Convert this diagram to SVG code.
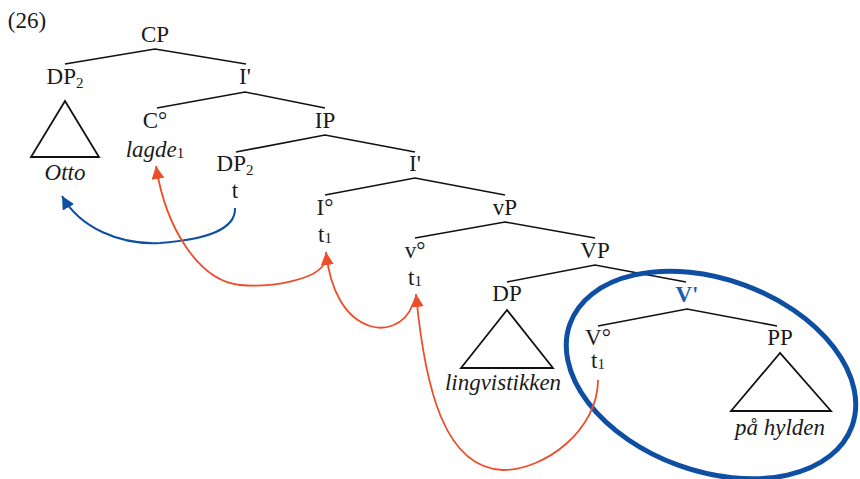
<svg xmlns="http://www.w3.org/2000/svg" width="860" height="479" viewBox="0 0 860 479">
  <defs>
    <style>
      text { font-family: "Times New Roman", "Liberation Serif", Tinos, "DejaVu Serif", serif; font-size: 23px; fill: #1a1a1a; text-anchor: middle; }
      .it { font-style: italic; }
      .sub { font-size: 15px; font-style: normal; }
      .branch { stroke: #111; stroke-width: 1.6; fill: none; }
      .tri { stroke: #111; stroke-width: 1.8; fill: none; stroke-linejoin: miter; }
      .mvred { stroke: #ee4d2a; stroke-width: 1.8; fill: none; }
      .mvblue { stroke: #0e4fa3; stroke-width: 2; fill: none; }
      .vbar { fill: #1b5cb0; font-weight: bold; }
    </style>
    <marker id="headRed" markerUnits="userSpaceOnUse" markerWidth="15" markerHeight="13" refX="13" refY="6.5" orient="auto">
      <path d="M0,0 L13,6.5 L0,13 Z" fill="#ee4d2a"/>
    </marker>
    <marker id="headBlue" markerUnits="userSpaceOnUse" markerWidth="15" markerHeight="13" refX="13" refY="6.5" orient="auto">
      <path d="M0,0 L13,6.5 L0,13 Z" fill="#0e4fa3"/>
    </marker>
  </defs>

  <rect width="860" height="479" fill="#ffffff"/>

  <text x="27" y="28">(26)</text>

  <!-- tree branches -->
  <g id="branches">
    <polyline class="branch" points="65,64 155,49 246,64"/>
    <polyline class="branch" points="157,108 245,92 325,108"/>
    <polyline class="branch" points="236,152 325,135 415,152"/>
    <polyline class="branch" points="325,195 415,178 505,195"/>
    <polyline class="branch" points="415,238 505,222 595,238"/>
    <polyline class="branch" points="507,282 595,265 686,282"/>
    <polyline class="branch" points="598,326 687,309 777,326"/>
  </g>

  <!-- nodes -->
  <g id="node-CP"><text x="155" y="42">CP</text></g>
  <g id="node-DP2-spec">
    <text x="65" y="84">DP<tspan class="sub" dy="4">2</tspan></text>
    <polygon class="tri" points="65,101 31,157 99,157"/>
    <text class="it" x="65" y="180">Otto</text>
  </g>
  <g id="node-Ibar-1"><text x="245" y="84">I'</text></g>
  <g id="node-C">
    <text x="155" y="128">C°</text>
    <text class="it" x="155" y="157">lagde<tspan class="sub" dy="1">1</tspan></text>
  </g>
  <g id="node-IP"><text x="325" y="128">IP</text></g>
  <g id="node-DP2-trace">
    <text x="235" y="171">DP<tspan class="sub" dy="4">2</tspan></text>
    <text x="235" y="198">t</text>
  </g>
  <g id="node-Ibar-2"><text x="415" y="171">I'</text></g>
  <g id="node-I">
    <text x="325" y="215">I°</text>
    <text x="325" y="242">t<tspan class="sub" dy="1">1</tspan></text>
  </g>
  <g id="node-vP"><text x="505" y="215">vP</text></g>
  <g id="node-v">
    <text x="415" y="258">v°</text>
    <text x="415" y="285">t<tspan class="sub" dy="1">1</tspan></text>
  </g>
  <g id="node-VP"><text x="595" y="258">VP</text></g>
  <g id="node-DP-obj">
    <text x="507" y="301">DP</text>
    <polygon class="tri" points="507,310 461,368 553,368"/>
    <text class="it" x="503" y="390">lingvistikken</text>
  </g>
  <g id="node-Vbar"><text class="vbar" x="687" y="302">V'</text></g>
  <g id="node-V">
    <text x="598" y="345">V°</text>
    <text x="598" y="368">t<tspan class="sub" dy="1">1</tspan></text>
  </g>
  <g id="node-PP">
    <text x="780" y="345">PP</text>
    <polygon class="tri" points="780,353 731,411 831,411"/>
    <text class="it" x="780" y="435">på hylden</text>
  </g>

  <!-- constituent highlight -->
  <ellipse id="vbar-ring" cx="711" cy="375" rx="150" ry="96" transform="rotate(20 711 375)" fill="none" stroke="#0e4fa3" stroke-width="5"/>

  <!-- movement connectors -->
  <g id="connectors">
    <path class="mvblue" marker-end="url(#headBlue)" d="M235,208 C236,232 200,240 160,243 C120,245 80,228 62,196"/>
    <path class="mvred" marker-end="url(#headRed)" d="M325,262 C318,280 270,288 240,285 C200,281 166,230 156,166"/>
    <path class="mvred" marker-end="url(#headRed)" d="M413,304 C404,328 382,330 370,326 C345,318 330,290 326,252"/>
    <path class="mvred" marker-end="url(#headRed)" d="M598,380 C598,430 545,470 503,470 C445,468 425,390 416,294"/>
  </g>
</svg>
